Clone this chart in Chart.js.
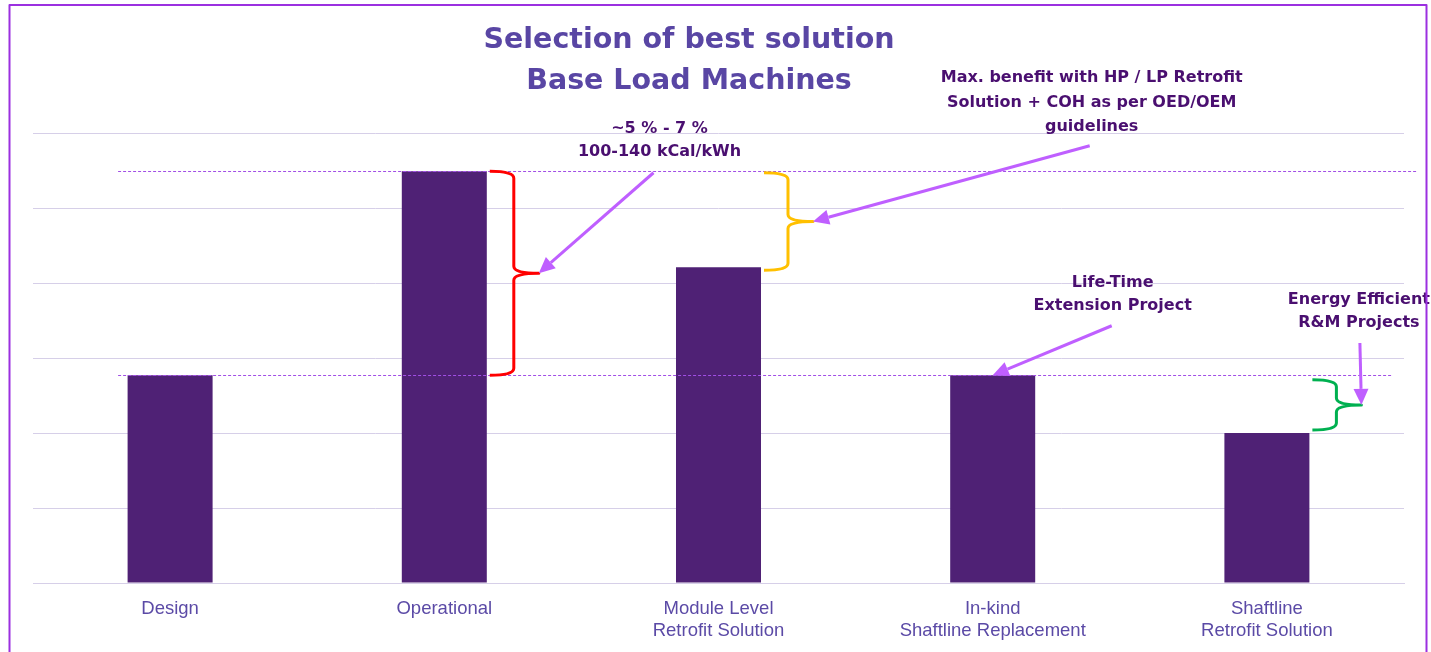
<!doctype html>
<html lang="en">
<head>
<meta charset="utf-8">
<title>Selection of best solution</title>
<style>
  html, body { margin: 0; background: #fff; }
  .wrap { width: 1431px; height: 652px; position: relative; }
</style>
</head>
<body>
<div class="wrap"><canvas id="chart"></canvas></div>
<script src="https://cdn.jsdelivr.net/npm/chart.js@4.4.4/dist/chart.umd.min.js"></script>
<script>
// Bar data (heat rate, relative units read off the gridlines; axis has no labels).
const CATEGORIES = [
  ["Design"],
  ["Operational"],
  ["Module Level", "Retrofit Solution"],
  ["In-kind", "Shaftline Replacement"],
  ["Shaftline", "Retrofit Solution"],
];
const VALUES = [2.77, 5.49, 4.21, 2.77, 2.0];
const Y_MAX = 6;

const TITLE = ["Selection of best solution", "Base Load Machines"];

// Dashed reference levels (operational and design heat rate).
const REF_LEVELS = [5.49, 2.77];

// Curly braces: category index, top value, bottom value, colour.
const BRACES = [
  { i: 1, top: 5.49, bottom: 2.77, color: "#ff0000" },
  { i: 2, top: 5.47, bottom: 4.17, color: "#ffc000" },
  { i: 4, top: 2.71, bottom: 2.04, color: "#00b050" },
];

// Callout text: anchored at category index + pixel offset, value of first line.
const NOTES = [
  { i: 2, dx: -59, v: 6.05, gap: 23, lines: ["~5 % - 7 %", "100-140 kCal/kWh"] },
  { i: 3, dx: 99, v: 6.73, gap: 24.5, lines: ["Max. benefit with HP / LP Retrofit", "Solution + COH as per OED/OEM", "guidelines"] },
  { i: 3, dx: 120, v: 4.0, gap: 23, lines: ["Life-Time", "Extension Project"] },
  { i: 4, dx: 92, v: 3.77, gap: 23, lines: ["Energy Efficient", "R&M Projects"] },
];

// Arrows: tail anchored like notes; head goes to a brace tip or a bar top.
const ARROWS = [
  { from: { i: 2, dx: -65, v: 5.47 }, to: { brace: 0 } },
  { from: { i: 3, dx: 97, v: 5.83 }, to: { brace: 1 } },
  { from: { i: 3, dx: 119, v: 3.43 }, to: { bar: 3 } },
  { from: { i: 4, dx: 93, v: 3.2 }, to: { brace: 2 } },
];

const BAR_COLOR = "#4f2175";
const ARROW_COLOR = "#bf5fff";
const NOTE_COLOR = "#4a0f70";

function braceGeom(chart, b) {
  const bar = chart.getDatasetMeta(0).data[b.i];
  const y = chart.scales.y;
  const x0 = bar.x + bar.width / 2 + 3;
  const xv = x0 + 24;
  const tip = xv + 25;
  const yTop = y.getPixelForValue(b.top);
  const yBot = y.getPixelForValue(b.bottom);
  return { x0, xv, tip, yTop, yBot, yMid: (yTop + yBot) / 2 };
}

const overlay = {
  id: "overlay",
  afterDatasetsDraw(chart) {
    const { ctx, scales: { x, y } } = chart;
    const ax = (i, dx) => x.getPixelForValue(i) + dx;
    ctx.save();

    // dashed reference lines
    ctx.strokeStyle = "#a24fe6";
    ctx.lineWidth = 1;
    ctx.setLineDash([3, 2]);
    const ends = [1417, 1392];
    REF_LEVELS.forEach((v, k) => {
      const py = Math.round(y.getPixelForValue(v)) + 0.5;
      ctx.beginPath();
      ctx.moveTo(ax(0, -52), py);
      ctx.lineTo(ends[k], py);
      ctx.stroke();
    });
    ctx.setLineDash([]);

    // braces
    const braces = BRACES.map((b) => braceGeom(chart, b));
    ctx.lineWidth = 3;
    ctx.lineJoin = "round";
    BRACES.forEach((b, k) => {
      const g = braces[k];
      const r = 7;
      ctx.strokeStyle = b.color;
      ctx.beginPath();
      ctx.moveTo(g.x0, g.yTop);
      ctx.quadraticCurveTo(g.xv, g.yTop, g.xv, g.yTop + r);
      ctx.lineTo(g.xv, g.yMid - r);
      ctx.quadraticCurveTo(g.xv, g.yMid, g.tip, g.yMid);
      ctx.quadraticCurveTo(g.xv, g.yMid, g.xv, g.yMid + r);
      ctx.lineTo(g.xv, g.yBot - r);
      ctx.quadraticCurveTo(g.xv, g.yBot, g.x0, g.yBot);
      ctx.stroke();
    });

    // arrows
    ctx.strokeStyle = ARROW_COLOR;
    ctx.fillStyle = ARROW_COLOR;
    ARROWS.forEach((a) => {
      const x1 = ax(a.from.i, a.from.dx);
      const y1 = y.getPixelForValue(a.from.v);
      let x2, y2;
      if (a.to.brace != null) {
        const g = braces[a.to.brace];
        x2 = g.tip; y2 = g.yMid;
      } else {
        const bar = chart.getDatasetMeta(0).data[a.to.bar];
        x2 = bar.x; y2 = bar.y;
      }
      const ang = Math.atan2(y2 - y1, x2 - x1);
      const hl = 16, hw = 7.5;
      const bx = x2 - hl * Math.cos(ang), by = y2 - hl * Math.sin(ang);
      ctx.lineWidth = 3;
      ctx.beginPath();
      ctx.moveTo(x1, y1);
      ctx.lineTo(bx, by);
      ctx.stroke();
      ctx.beginPath();
      ctx.moveTo(x2, y2);
      ctx.lineTo(bx + hw * Math.sin(ang), by - hw * Math.cos(ang));
      ctx.lineTo(bx - hw * Math.sin(ang), by + hw * Math.cos(ang));
      ctx.closePath();
      ctx.fill();
    });

    // callout text
    ctx.fillStyle = NOTE_COLOR;
    ctx.font = "bold 16px 'DejaVu Sans'";
    ctx.textAlign = "center";
    ctx.textBaseline = "middle";
    NOTES.forEach((n) => {
      const cx = ax(n.i, n.dx);
      const cy = y.getPixelForValue(n.v);
      n.lines.forEach((t, k) => ctx.fillText(t, cx, cy + k * n.gap));
    });

    // title
    ctx.fillStyle = "#5946a4";
    ctx.font = "bold 28.5px 'DejaVu Sans'";
    TITLE.forEach((t, k) => ctx.fillText(t, 689, 41 + k * 41));

    // slide frame
    ctx.strokeStyle = "#9b30e0";
    ctx.lineWidth = 2;
    ctx.strokeRect(9.5, 5, 1417, 700);
    ctx.restore();
  },
};

new Chart(document.getElementById("chart"), {
  type: "bar",
  data: {
    labels: CATEGORIES,
    datasets: [{
      data: VALUES,
      backgroundColor: BAR_COLOR,
      categoryPercentage: 1,
      barPercentage: 0.31,
    }],
  },
  options: {
    responsive: true,
    maintainAspectRatio: false,
    animation: false,
    layout: { padding: { top: 133, left: 33, right: 27, bottom: 0 } },
    plugins: { legend: { display: false }, tooltip: { enabled: false }, title: { display: false } },
    scales: {
      x: {
        grid: { display: false },
        border: { color: "#d6cfe8", width: 1 },
        ticks: {
          color: "#5b4aa6",
          font: { family: "'Liberation Sans', Arial", size: 18.5 },
          padding: 7,
          maxRotation: 0,
          autoSkip: false,
        },
        afterFit(scale) { scale.height = 69; },
      },
      y: {
        min: 0,
        max: Y_MAX,
        ticks: { display: false, stepSize: 1 },
        grid: { color: "#d6cfe8", lineWidth: 1, drawTicks: false },
        border: { display: false },
        afterFit(scale) { scale.width = 0; },
      },
    },
  },
  plugins: [overlay],
});
</script>
</body>
</html>
